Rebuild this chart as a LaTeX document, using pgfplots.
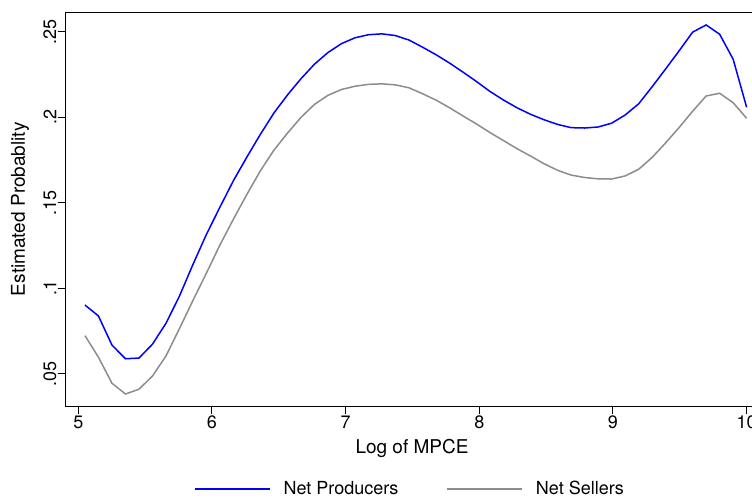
\documentclass[border=0pt]{standalone}
\usepackage{pgfplots}
\pgfplotsset{compat=1.18}
\usepackage{fontspec}
\setmainfont{TeX Gyre Heros}
\definecolor{npblue}{RGB}{0,0,255}
\definecolor{nsgray}{RGB}{140,140,140}
\begin{document}
\begin{tikzpicture}
\begin{axis}[
  scale only axis,
  width=694.3pt, height=393.7pt,
  xmin=4.906, xmax=10.1,
  ymin=0.0313, ymax=0.2613,
  axis line style={line width=1pt, black},
  xtick={5,6,7,8,9,10},
  xtick pos=bottom,
  ytick pos=left,
  ytick={0.05,0.1,0.15,0.2,0.25},
  yticklabels={.05,.1,.15,.2,.25},
  tick align=outside,
  major tick length=8pt,
  tick style={line width=1pt, black},
  /pgf/number format/assume math mode=true,
  ticklabel style={font=\fontsize{18}{21}\selectfont},
  yticklabel style={rotate=90, anchor=south, inner sep=1pt},
  xticklabel style={anchor=north, inner sep=2pt},
  xlabel={Log of MPCE},
  ylabel={Estimated Probablity},
  label style={font=\fontsize{19}{22}\selectfont},
  xlabel style={at={(axis description cs:0.4988,-0.1067)}, anchor=center},
  ylabel style={at={(axis description cs:-0.0658,0.5)}, anchor=center},
  legend columns=2,
  legend style={draw=none, fill=none, at={(axis description cs:0.4959,-0.2108)}, anchor=center,
    font=\fontsize{18}{21}\selectfont,
    /tikz/every odd column/.append style={column sep=11pt},
    /tikz/every even column/.append style={column sep=46pt}},
  legend image code/.code={\draw[#1] (0pt,0pt) -- (75pt,0pt);},
  legend cell align=left,
]
\addplot[npblue, line width=1.5pt] coordinates {
(5.050,0.0903) (5.151,0.0839) (5.252,0.0669) (5.353,0.0589) (5.454,0.0593)
(5.555,0.0674) (5.656,0.0796) (5.757,0.0955) (5.858,0.1140) (5.959,0.1316)
(6.060,0.1475) (6.161,0.1630) (6.262,0.1768) (6.363,0.1901) (6.464,0.2025)
(6.565,0.2130) (6.666,0.2225) (6.767,0.2310) (6.868,0.2378) (6.969,0.2430)
(7.070,0.2464) (7.171,0.2482) (7.272,0.2487) (7.373,0.2477) (7.474,0.2451)
(7.576,0.2409) (7.677,0.2365) (7.778,0.2316) (7.879,0.2263) (7.980,0.2208)
(8.081,0.2150) (8.182,0.2100) (8.283,0.2055) (8.384,0.2017) (8.485,0.1985)
(8.586,0.1958) (8.687,0.1939) (8.788,0.1937) (8.889,0.1943) (8.990,0.1965)
(9.091,0.2013) (9.192,0.2078) (9.293,0.2178) (9.394,0.2282) (9.495,0.2388)
(9.596,0.2497) (9.697,0.2539) (9.798,0.2485) (9.899,0.2339) (10.000,0.2058)
};
\addlegendentry{Net Producers}
\addplot[nsgray, line width=1.5pt] coordinates {
(5.050,0.0724) (5.151,0.0598) (5.252,0.0446) (5.353,0.0383) (5.454,0.0411)
(5.555,0.0488) (5.656,0.0605) (5.757,0.0765) (5.858,0.0930) (5.959,0.1090)
(6.060,0.1254) (6.161,0.1405) (6.262,0.1550) (6.363,0.1688) (6.464,0.1808)
(6.565,0.1907) (6.666,0.1999) (6.767,0.2075) (6.868,0.2128) (6.969,0.2162)
(7.070,0.2181) (7.171,0.2192) (7.272,0.2195) (7.373,0.2189) (7.474,0.2172)
(7.576,0.2137) (7.677,0.2100) (7.778,0.2055) (7.879,0.2007) (7.980,0.1960)
(8.081,0.1910) (8.182,0.1863) (8.283,0.1816) (8.384,0.1773) (8.485,0.1728)
(8.586,0.1690) (8.687,0.1662) (8.788,0.1648) (8.889,0.1640) (8.990,0.1639)
(9.091,0.1657) (9.192,0.1696) (9.293,0.1765) (9.394,0.1850) (9.495,0.1940)
(9.596,0.2035) (9.697,0.2124) (9.798,0.2140) (9.899,0.2085) (10.000,0.1994)
};
\addlegendentry{Net Sellers}
\end{axis}
\pgfresetboundingbox
\path (current axis.south west) ++(-65.7pt,-94pt) rectangle ++(752pt,500pt);
\end{tikzpicture}
\end{document}
